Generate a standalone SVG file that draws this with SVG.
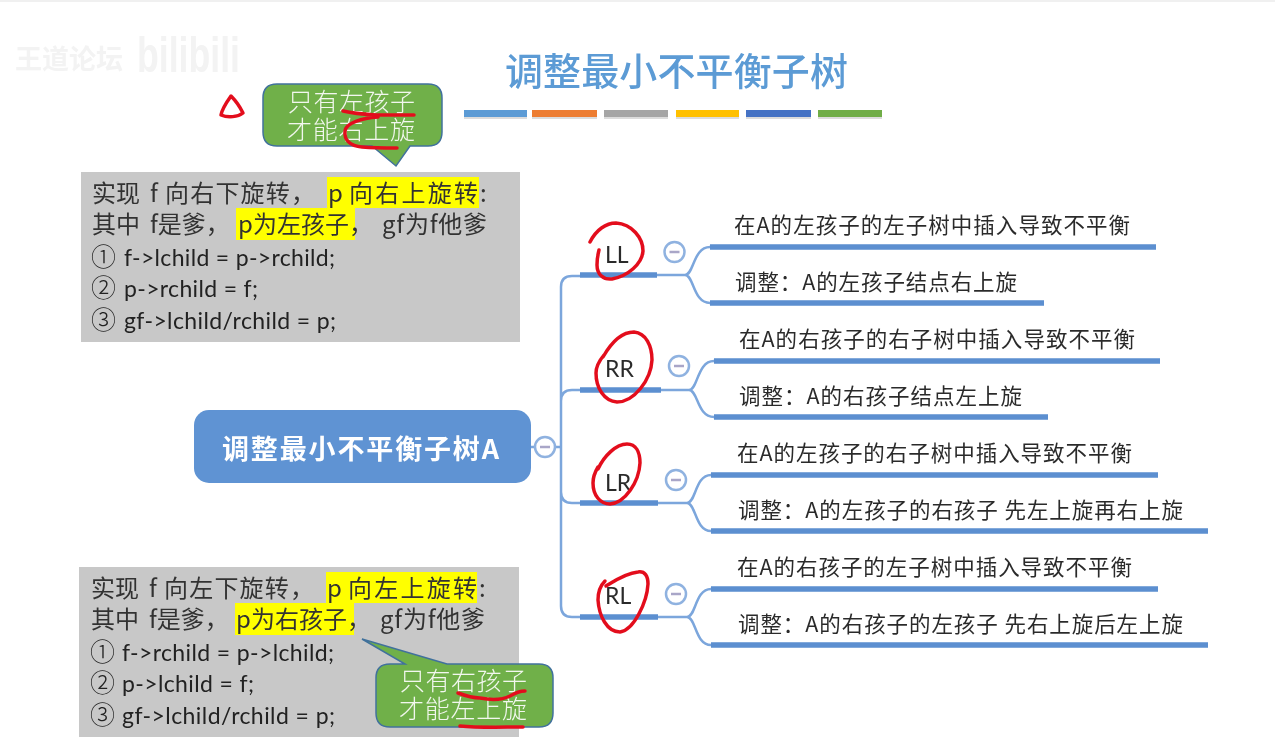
<svg xmlns="http://www.w3.org/2000/svg" width="1275" height="756" viewBox="0 0 1275 756">
<style>
text{font-family:"Noto Sans CJK SC","Liberation Sans",sans-serif;fill:#333}
.box{fill:#c8c8c8}
.hl{fill:#ffff00}
.t{font-size:24px;font-weight:400;fill:#333}
.c{font-family:"Lato","Liberation Sans",sans-serif;font-size:23px;fill:#222}
.n{font-size:25px;font-weight:300;fill:#222}
.call{fill:#70b04a;stroke:#41719c;stroke-width:1.5}
.ct{font-size:25px;font-weight:300;fill:#f2f7ee}
.bar{stroke:#5b8fd0;stroke-width:5.500;fill:none}
.thin{stroke:#7ba6dc;stroke-width:2.500;fill:none}
.tog{fill:#fff;stroke:#8fb2e0;stroke-width:2.500}
.togm{stroke:#a9a6c8;stroke-width:2.500}
.lbl{font-size:21.500px;font-weight:400;fill:#2c2c2c}
.k{font-family:"Lato","Liberation Sans",sans-serif;font-size:23px;fill:#2c2c2c}
.red{fill:none;stroke:#e3101f;stroke-width:3.500;stroke-linecap:round;stroke-linejoin:round}
.sh{fill:#dcdcdc}
</style>
<defs><filter id="soft" x="0" y="0" width="100%" height="100%"><feGaussianBlur stdDeviation="0.45"/></filter></defs>
<rect width="1275" height="756" fill="#fff"/>
<rect width="1275" height="2" fill="#f0f0f0"/>
<g filter="url(#soft)">
<g id="watermark">
<text x="15" y="69" font-size="27" style="fill:#f3f3f3;font-weight:700">王道论坛</text>
<text x="137" y="72" style="fill:#f3f3f3;font-family:'Liberation Sans',sans-serif;font-weight:bold;font-size:50px" textLength="103" lengthAdjust="spacingAndGlyphs">bilibili</text>
</g>
<g id="title">
<text x="505" y="85" style="font-size:38px;fill:#5b9bd5;font-weight:500" textLength="343">调整最小不平衡子树</text>
<rect class="sh" x="464" y="116" width="63" height="3"/><rect class="sh" x="532" y="116" width="65" height="3"/><rect class="sh" x="604" y="116" width="64" height="3"/><rect class="sh" x="676" y="116" width="63" height="3"/><rect class="sh" x="746" y="116" width="65" height="3"/><rect class="sh" x="818" y="116" width="64" height="3"/>
<rect x="464" y="110" width="63" height="7" fill="#5b9bd5"/>
<rect x="532" y="110" width="65" height="7" fill="#ed7d31"/>
<rect x="604" y="110" width="64" height="7" fill="#a5a5a5"/>
<rect x="676" y="110" width="63" height="7" fill="#ffc000"/>
<rect x="746" y="110" width="65" height="7" fill="#4472c4"/>
<rect x="818" y="110" width="64" height="7" fill="#70ad47"/>
</g>
<g id="connectors">
<path class="thin" d="M531 447H561M580 276H572Q561 276 561 287V606Q561 617 572 617H580M561 401Q561 390 572 390H580M561 492Q561 503 572 503H580"/>
<path class="thin" d="M657 275H685C694 275 693 247 710 247M685 275C694 275 693 303 710 303"/>
<path class="thin" d="M661 390H689C698 390 697 361 714 361M689 390C698 390 697 417 714 417"/>
<path class="thin" d="M658 503H687C696 503 695 475 711 475M687 503C696 503 695 531 711 531"/>
<path class="thin" d="M658 617H687C696 617 695 589 711 589M687 617C696 617 695 645 711 645"/>
<path class="bar" d="M710 247H1156M710 303H1044M714 361H1160M714 417H1048M711 475H1158M711 531H1208M711 589H1158M711 645H1208"/>
</g>
<g id="root">
<rect x="194" y="410" width="337" height="73" rx="15" fill="#5f93d3"/>
<text x="222" y="459" style="font-size:27px;font-weight:700;fill:#fff" textLength="277">调整最小不平衡子树A</text>
<circle class="tog" cx="545" cy="447" r="10"/><path class="togm" d="M540 447H550"/>
</g>
<g id="LL">
<path class="bar" d="M580 275H657"/>
<text class="k" x="605" y="263">LL</text>
<circle class="tog" cx="674.500" cy="252" r="10"/><path class="togm" d="M669.500 252H679.500"/>
<text class="lbl" x="734" y="233" textLength="396">在A的左孩子的左子树中插入导致不平衡</text>
<text class="lbl" x="735" y="290" textLength="282">调整：A的左孩子结点右上旋</text>
</g>
<g id="RR">
<path class="bar" d="M580 390H661"/>
<text class="k" x="605" y="377">RR</text>
<circle class="tog" cx="679" cy="366" r="10"/><path class="togm" d="M674 366H684"/>
<text class="lbl" x="739" y="347" textLength="396">在A的右孩子的右子树中插入导致不平衡</text>
<text class="lbl" x="739" y="404" textLength="283">调整：A的右孩子结点左上旋</text>
</g>
<g id="LR">
<path class="bar" d="M580 503H658"/>
<text class="k" x="605" y="491">LR</text>
<circle class="tog" cx="676" cy="480" r="10"/><path class="togm" d="M671 480H681"/>
<text class="lbl" x="737" y="461" textLength="395">在A的左孩子的右子树中插入导致不平衡</text>
<text class="lbl" x="738" y="518" textLength="445">调整：A的左孩子的右孩子 先左上旋再右上旋</text>
</g>
<g id="RL">
<path class="bar" d="M580 617H658"/>
<text class="k" x="605" y="604">RL</text>
<circle class="tog" cx="676" cy="594" r="10"/><path class="togm" d="M671 594H681"/>
<text class="lbl" x="737" y="575" textLength="395">在A的右孩子的左子树中插入导致不平衡</text>
<text class="lbl" x="738" y="632" textLength="445">调整：A的右孩子的左孩子 先右上旋后左上旋</text>
</g>
<g id="note-top">
<rect class="box" x="81" y="172" width="439" height="170"/>
<rect class="hl" x="327" y="177" width="152" height="31"/>
<rect class="hl" x="236" y="208" width="119" height="32"/>
<text class="t" x="92" y="202">实现</text><text class="t" x="150" y="202">f</text><text class="t" x="165" y="202" textLength="150">向右下旋转，</text>
<text class="t" x="328" y="202">p</text><text class="t" x="349" y="202" textLength="129">向右上旋转</text><text class="t" x="480" y="202">:</text>
<text class="t" x="92" y="233">其中</text><text class="t" x="150" y="233">f是爹，</text>
<text class="t" x="238" y="233">p为左孩子，</text><text class="t" x="382" y="233" textLength="105">gf为f他爹</text>
<text class="n" x="91" y="266">①</text><text class="c" x="124" y="266" textLength="211">f-&gt;lchild = p-&gt;rchild;</text>
<text class="n" x="91" y="297">②</text><text class="c" x="124" y="297" textLength="134">p-&gt;rchild = f;</text>
<text class="n" x="91" y="329">③</text><text class="c" x="124" y="329" textLength="212">gf-&gt;lchild/rchild = p;</text>
</g>
<g id="callout-top">
<path class="call" d="M277 84H428Q442 84 442 98V132Q442 146 428 146H410L396 166L372 146H277Q263 146 263 132V98Q263 84 277 84Z"/>
<text class="ct" x="288" y="111" textLength="127">只有左孩子</text>
<text class="ct" x="287" y="139" textLength="128">才能右上旋</text>
</g>
<g id="note-bottom">
<rect class="box" x="79" y="567" width="440" height="170"/>
<rect class="hl" x="326" y="572" width="151" height="31"/>
<rect class="hl" x="235" y="603" width="119" height="32"/>
<text class="t" x="91" y="597">实现</text><text class="t" x="149" y="597">f</text><text class="t" x="164" y="597" textLength="150">向左下旋转，</text>
<text class="t" x="327" y="597">p</text><text class="t" x="348" y="597" textLength="129">向左上旋转</text><text class="t" x="479" y="597">:</text>
<text class="t" x="91" y="628">其中</text><text class="t" x="149" y="628">f是爹，</text>
<text class="t" x="236" y="628">p为右孩子，</text><text class="t" x="380" y="628" textLength="105">gf为f他爹</text>
<text class="n" x="90" y="661">①</text><text class="c" x="122" y="661" textLength="212">f-&gt;rchild = p-&gt;lchild;</text>
<text class="n" x="90" y="692">②</text><text class="c" x="122" y="692" textLength="132">p-&gt;lchild = f;</text>
<text class="n" x="90" y="724">③</text><text class="c" x="122" y="724" textLength="213">gf-&gt;lchild/rchild = p;</text>
</g>
<g id="callout-bottom">
<path class="call" d="M390 664H405L362 639L447 664H539Q553 664 553 678V713Q553 727 539 727H390Q376 727 376 713V678Q376 664 390 664Z"/>
<text class="ct" x="400" y="690" textLength="127">只有右孩子</text>
<text class="ct" x="399" y="718" textLength="128">才能左上旋</text>
</g>
<g id="annotations">
<path class="red" d="M231 96C226 103 222 109 221 115C228 118 238 117 243 113C240 107 236 101 231 96Z"/>
<path class="red" d="M343 111C365 116 390 115 414 115M378 117C362 118 346 123 345 131C344 140 350 146 362 147C375 148 386 148 397 148"/>
<path class="red" d="M590 242C596 230 606 223 616 223C632 224 643 238 643 251C642 264 628 276 612 279C603 280 597 274 597 265C597 259 598 254 599 250"/>
<path class="red" d="M603 357C611 343 622 332 634 332C646 333 652 346 652 360C651 380 634 402 617 402C604 401 596 388 596 373C596 366 599 361 604 355"/>
<path class="red" d="M598 469C604 456 616 444 627 444C636 444 640 452 640 463C639 482 625 503 610 504C600 504 593 495 593 483C593 477 595 472 598 467"/>
<path class="red" d="M605 581C600 586 598 592 598 600C599 616 607 632 620 632C634 630 647 602 648 584C648 576 645 571 638 572C626 573 614 581 606 586"/>
<path class="red" d="M458 693C466 696 472 698 480 698C490 700 502 700 510 696C515 693 520 691 525 691"/>
<path class="red" d="M460 726C480 728 503 727 523 727"/>
</g>
</g>
</svg>
